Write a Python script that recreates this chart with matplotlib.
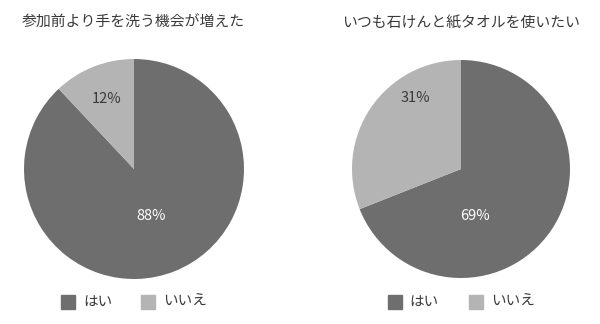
import matplotlib
matplotlib.use("Agg")
import matplotlib.pyplot as plt
from matplotlib.patches import Rectangle

plt.rcParams['font.family'] = ['Noto Sans CJK JP', 'DejaVu Sans']

titles = ["参加前より手を洗う機会が増えた", "いつも石けんと紙タオルを使いたい"]
categories = ["はい", "いいえ"]
values_1 = [88, 12]
values_2 = [69, 31]
all_values = [values_1, values_2]

colors = ["#6e6e6e", "#b4b4b4"]
text_dark = "#3a3a3a"
W, H = 600, 324
fig = plt.figure(figsize=(6, 3.24), dpi=100)

# pie geometry in pixels: (cx, cy, r)
geoms = [(134, 169, 110), (461, 169, 109)]
# label positions in pixels
label_pos = [[(151, 216), (107, 99)], [(475, 216), (415, 98)]]
label_colors = ["white", text_dark]
title_pos = [(22, 23), (342, 23)]
legend_x = [(61, 83, 141, 163), (388, 409, 469, 491)]

def fx(x):
    return x / W

def fy(y):
    return 1 - y / H

for i, vals in enumerate(all_values):
    cx, cy, r = geoms[i]
    ax = fig.add_axes([fx(cx - r), fy(cy + r), 2 * r / W, 2 * r / H])
    ax.pie(vals, colors=colors, startangle=90, counterclock=False,
           wedgeprops=dict(linewidth=0))
    ax.set_xlim(-1, 1)
    ax.set_ylim(-1, 1)
    ax.set_aspect('auto')
    ax.axis('off')
    for j, v in enumerate(vals):
        px, py = label_pos[i][j]
        fig.text(fx(px), fy(py), f"{v}%", ha='center', va='center',
                 fontsize=10.5, color=label_colors[j])
    tx, ty = title_pos[i]
    fig.text(fx(tx), fy(ty), titles[i], ha='left', va='center',
             fontsize=10.7, color=text_dark)
    s1, t1, s2, t2 = legend_x[i]
    for sx, tx2, cat, col in [(s1, t1, categories[0], colors[0]),
                               (s2, t2, categories[1], colors[1])]:
        fig.patches.append(Rectangle((fx(sx), fy(309)), 14 / W, 14 / H,
                                     transform=fig.transFigure, color=col))
        fig.text(fx(tx2), fy(302), cat, ha='left', va='center',
                 fontsize=10.5, color=text_dark)

fig.savefig("out.png", dpi=100)
